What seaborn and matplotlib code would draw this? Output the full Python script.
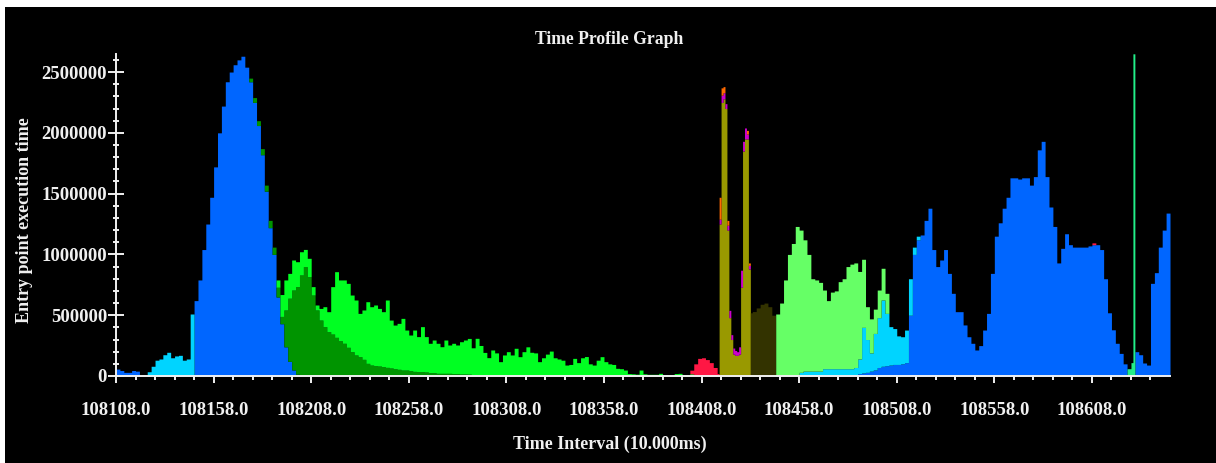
import numpy as np
import pandas as pd
import matplotlib
matplotlib.use("Agg")
import matplotlib.pyplot as plt
from matplotlib.patches import Rectangle
from matplotlib.ticker import FixedLocator, MultipleLocator, FormatStrFormatter, FuncFormatter
import seaborn as sns

# ---------------- data (execution time per interval, in thousands) ----------------
# each segment: series name, first interval, interval step, values
blue_a_start, blue_a = 108108, [57, 45, 30, 30, 45, 40]
blue_b_start, blue_b = 108148, [620, 790, 1040, 1250, 1470, 1720, 2000, 2220, 2420, 2500, 2560,
                                2600, 2630, 2540, 2420, 2250, 2060, 1820, 1520, 1220, 1000, 650,
                                430, 240, 120, 50, 15]
blue_c_start, blue_c = 108470, [10, 10, 10, 10, 10, 10, 10, 10, 10, 20, 25, 30, 40, 50, 70, 80, 85,
                                90, 95, 95, 100, 110, 500, 1000, 1120, 1160, 1280, 1380, 1040, 900,
                                954, 1040, 844, 680, 529, 529, 420, 323, 269, 214, 250, 378, 515,
                                844, 1150, 1260, 1380, 1470, 1630, 1630, 1620, 1630, 1630, 1570,
                                1640, 1860, 1930, 1640, 1390, 1230, 930, 1050, 1170, 1080, 1060,
                                1060, 1060, 1060, 1070, 1080, 1080, 1040, 800, 520, 380, 269, 186, 100]
blue_d_start, blue_d = 108630, [200, 175, 107, 90, 762, 850, 1060, 1200, 1340]

cyan_a_start, cyan_a = 108124, [35, 80, 130, 140, 175, 195, 150, 165, 170, 130, 140, 510]
cyan_b_start, cyan_b = 108458, [30, 40, 40, 40, 40, 40, 50, 50, 50, 50, 50, 50, 50, 50, 60, 120,
                                375, 270, 150, 300, 410, 545, 430, 316, 295, 235, 223, 268, 300, 60, 30]

dkgreen_start, dkgreen = 108176, [30, 40, 40, 50, 50, 60, 60, 80, 60, 303, 520, 657, 720, 831, 899,
                                  817, 666, 543, 460, 406, 365, 345, 318, 290, 269, 236, 200, 173,
                                  159, 137, 104, 90, 85, 82, 77, 71, 66, 60, 55, 49, 49, 44, 38, 36,
                                  36, 33, 27, 27, 22, 22, 22, 22, 19, 19, 16, 16, 15, 12, 10, 10, 8, 6]

green_start, green = 108190, [60, 180, 247, 204, 247, 205, 191, 142, 151, 69, 41, 96, 164, 164, 390,
                              540, 500, 521, 526, 466, 452, 356, 406, 507, 480, 499, 474, 452, 554,
                              394, 359, 378, 425, 329, 293, 340, 288, 370, 291, 242, 269, 247, 219,
                              274, 233, 250, 236, 266, 280, 294, 220, 300, 241, 186, 145, 214, 190,
                              118, 173, 200, 173, 228, 159, 200, 240, 195, 190, 118, 150, 180, 205,
                              150, 140, 130, 90, 95, 145, 110, 150, 160, 100, 90, 130, 159, 118, 100,
                              95, 63, 60, 49, 20, 18, 15, 49, 18, 14, 14, 14, 22, 10, 8, 8, 20, 22,
                              8, 8, 18]

red_a_start, red_a = 108402, [30, 100, 145, 150, 135, 110, 70]
red_b_start, red_b = 108416, [20]
red_c_start, red_c = 108608, [15]

olive_start, olive = 108417, [1250, 2250, 2280, 2200, 1200, 480, 300, 180, 170, 170, 180, 730,
                              1850, 1950, 1950, 880]
magenta_start, magenta = 108417, [40, 60, 50, 40, 40, 60, 40, 50, 40, 30, 60, 140, 80, 90, 40, 30]
orange_start, orange = 108417, [180, 60, 50, 0, 40, 0, 0, 0, 0, 0, 0, 0, 0, 0, 30, 20]

dkolive_a_start, dkolive_a = 108433, [520]
dkolive_b_start, dkolive_b = 108434, [530, 560, 590, 600, 570, 500]

ltgreen_start, ltgreen = 108446, [510, 600, 790, 1000, 1090, 1230, 1170, 1080, 960, 760, 750, 730,
                                  647, 560, 630, 640, 716, 740, 840, 860, 860, 720, 560, 270, 280,
                                  200, 227, 261, 165]

spring_a_start, spring_a = 108626, [60]
spring_b_start, spring_b = 108628, [110, 2650]

x_ticks = [108108.0, 108158.0, 108208.0, 108258.0, 108308.0, 108358.0,
           108408.0, 108458.0, 108508.0, 108558.0, 108608.0]

segments = [
    ("blue", blue_a_start, 2, blue_a), ("blue", blue_b_start, 2, blue_b),
    ("blue", blue_c_start, 2, blue_c), ("blue", blue_d_start, 2, blue_d),
    ("cyan", cyan_a_start, 2, cyan_a), ("cyan", cyan_b_start, 2, cyan_b),
    ("dkgreen", dkgreen_start, 2, dkgreen), ("green", green_start, 2, green),
    ("red", red_a_start, 2, red_a), ("red", red_b_start, 1, red_b), ("red", red_c_start, 2, red_c),
    ("olive", olive_start, 1, olive), ("magenta", magenta_start, 1, magenta),
    ("orange", orange_start, 1, orange),
    ("dkolive", dkolive_a_start, 1, dkolive_a), ("dkolive", dkolive_b_start, 2, dkolive_b),
    ("ltgreen", ltgreen_start, 2, ltgreen),
    ("spring", spring_a_start, 2, spring_a), ("spring", spring_b_start, 1, spring_b),
]

# stacking order, bottom -> top
stack = ["blue", "cyan", "dkgreen", "green", "red", "olive", "dkolive", "ltgreen",
         "spring", "magenta", "orange"]
colors = {"blue": "#0066ff", "cyan": "#00d4ff", "dkgreen": "#009400", "green": "#00ff22",
          "red": "#ff1744", "olive": "#999900", "dkolive": "#333300", "ltgreen": "#66ff66",
          "spring": "#22ee88", "magenta": "#cc00cc", "orange": "#ff6a00"}

rows = []
for name, start, step, vals in segments:
    for i, v in enumerate(vals):
        rows.append({"t": start + i * step + step / 2.0, "v": v * 1000.0, "s": name})
df = pd.DataFrame(rows)

edges = np.concatenate([np.arange(108108, 108416, 2), np.arange(108416, 108434, 1),
                        np.arange(108434, 108628, 2), np.arange(108628, 108630, 1),
                        np.arange(108630, 108649, 2)]).astype(float).tolist()

# ---------------- style ----------------
sns.set_theme(style="dark")
plt.rcParams["font.family"] = ["Liberation Serif", "DejaVu Serif"]
plt.rcParams["font.weight"] = "bold"
fg = "#f0f0f0"

W, H = 1216, 463
fig = plt.figure(figsize=(W / 100, H / 100), dpi=100)
fig.patch.set_facecolor("white")
fig.patches.append(Rectangle((5 / W, 0), 1 - 5 / W, (H - 7) / H, transform=fig.transFigure,
                             facecolor="black", edgecolor="none", zorder=-1))

ax = fig.add_axes([116 / W, 1 - 376 / H, (1170 - 116) / W, (376 - 53.8) / H])
ax.set_facecolor("black")

sns.histplot(data=df, x="t", weights="v", hue="s", hue_order=stack[::-1], palette=colors,
             multiple="stack", bins=edges, element="step", fill=True, linewidth=0, alpha=1,
             legend=False, stat="count", ax=ax)

ax.set_xlim(108108, 108648)
ax.set_ylim(0, 2650000)
ax.set_xlabel("")
ax.set_ylabel("")

for side in ["top", "right"]:
    ax.spines[side].set_visible(False)
for side in ["left", "bottom"]:
    ax.spines[side].set_color(fg)
    ax.spines[side].set_linewidth(1.4)
    ax.spines[side].set_zorder(5)

ax.xaxis.set_major_locator(FixedLocator(x_ticks))
ax.xaxis.set_minor_locator(FixedLocator(np.arange(108108, 108640, 10)))
ax.xaxis.set_major_formatter(FormatStrFormatter("%.1f"))
ax.yaxis.set_major_locator(MultipleLocator(500000))
ax.yaxis.set_minor_locator(MultipleLocator(100000))
ax.yaxis.set_major_formatter(FuncFormatter(lambda v, p: f"{int(round(v))}"))

ax.tick_params(axis="both", which="both", bottom=True, left=True, top=False, right=False)
ax.tick_params(axis="x", which="major", direction="out", length=5, width=1.4, color=fg,
               labelcolor=fg, labelsize=13.5, pad=14)
ax.tick_params(axis="x", which="minor", direction="out", length=3, width=1.4, color=fg)
ax.tick_params(axis="y", which="major", direction="inout", length=11.5, width=1.4, color=fg,
               labelcolor=fg, labelsize=13.5, pad=0.7)
ax.tick_params(axis="y", which="minor", direction="inout", length=5, width=1.4, color=fg)
for lab in ax.get_xticklabels() + ax.get_yticklabels():
    lab.set_fontweight("bold")

fig.text(609.5 / W, 1 - 40 / H, "Time Profile Graph", ha="center", va="center",
         color=fg, fontsize=12.7, fontweight="bold")
fig.text(610 / W, 1 - 444 / H, "Time Interval (10.000ms)", ha="center", va="center",
         color=fg, fontsize=13, fontweight="bold")
fig.text(25 / W, 1 - 220 / H, "Entry point execution time", ha="center", va="center",
         rotation=90, color=fg, fontsize=13, fontweight="bold")

fig.savefig("out.png", dpi=100, facecolor=fig.get_facecolor())
